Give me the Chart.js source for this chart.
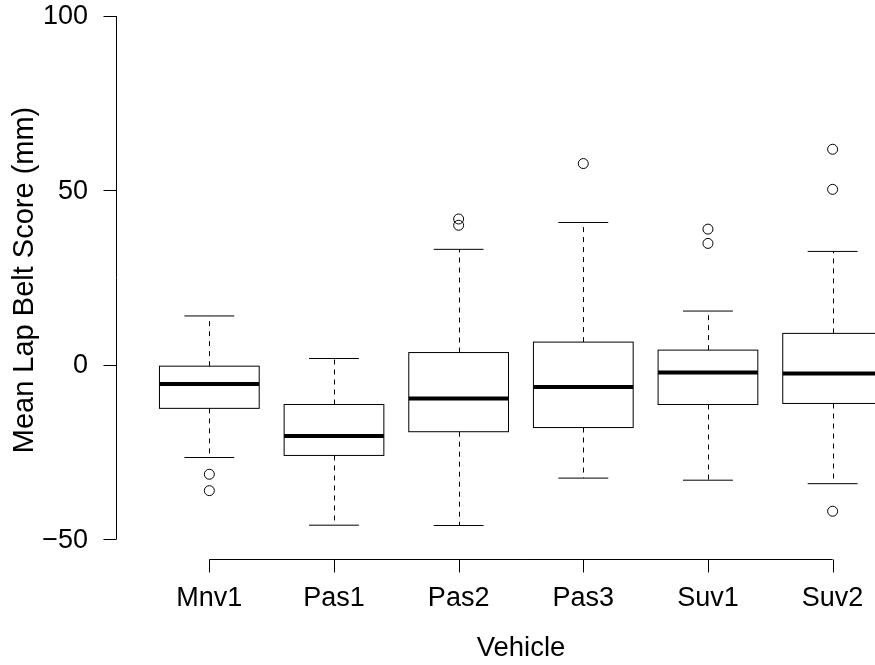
<!DOCTYPE html>
<html>
<head>
<meta charset="utf-8">
<script src="https://cdn.jsdelivr.net/npm/chart.js@4/dist/chart.umd.min.js"></script>
<style>
  body { margin: 0; background: #fff; }
  canvas { display: block; }
</style>
</head>
<body>
<canvas id="boxChart" width="875" height="665"></canvas>
<script>
// -- data --
const vehicles = ['Mnv1', 'Pas1', 'Pas2', 'Pas3', 'Suv1', 'Suv2'];
const whiskerLow = [-26.6, -46.0, -46.1, -32.5, -33.1, -34.1];
const lowerQ = [-12.5, -26.0, -19.2, -18.0, -11.4, -11.1];
const medians = [-5.5, -20.4, -9.7, -6.4, -2.2, -2.5];
const upperQ = [-0.4, -11.4, 3.5, 6.5, 4.2, 9.0];
const whiskerHigh = [14.0, 1.8, 33.1, 40.8, 15.4, 32.5];
const outliers = [[-31.4, -36.1], [], [41.8, 40.0], [57.7], [38.9, 34.8], [61.8, 50.3, -42.0]];
const yTicks = [-50, 0, 50, 100];

const FONT = '27px "Liberation Sans", Arial, sans-serif';

const outlierPoints = [];
outliers.forEach((list, i) => list.forEach(v => outlierPoints.push({ x: i + 1, y: v })));

// R style boxes and axes, drawn through the chart scales
const boxPlot = {
  id: 'boxPlot',
  beforeDatasetsDraw(chart) {
    const { ctx, chartArea, scales: { x, y } } = chart;
    const half = 0.4, cap = 0.2;
    ctx.save();
    ctx.beginPath();
    ctx.rect(chartArea.left, chartArea.top, chartArea.right - chartArea.left, chartArea.bottom - chartArea.top);
    ctx.clip();
    ctx.strokeStyle = '#000';
    vehicles.forEach((v, i) => {
      const c = i + 1;
      const xc = Math.round(x.getPixelForValue(c)) + 0.5;
      const xl = x.getPixelForValue(c - half), xr = x.getPixelForValue(c + half);
      const cl = x.getPixelForValue(c - cap), cr = x.getPixelForValue(c + cap);
      // whiskers
      ctx.lineWidth = 1;
      ctx.setLineDash([5, 5]);
      ctx.beginPath();
      ctx.moveTo(xc, y.getPixelForValue(upperQ[i]));
      ctx.lineTo(xc, y.getPixelForValue(whiskerHigh[i]));
      ctx.moveTo(xc, y.getPixelForValue(lowerQ[i]));
      ctx.lineTo(xc, y.getPixelForValue(whiskerLow[i]));
      ctx.stroke();
      ctx.setLineDash([]);
      // staples
      ctx.beginPath();
      ctx.moveTo(cl, y.getPixelForValue(whiskerHigh[i]));
      ctx.lineTo(cr, y.getPixelForValue(whiskerHigh[i]));
      ctx.moveTo(cl, y.getPixelForValue(whiskerLow[i]));
      ctx.lineTo(cr, y.getPixelForValue(whiskerLow[i]));
      ctx.stroke();
      // box
      const yt = y.getPixelForValue(upperQ[i]), yb = y.getPixelForValue(lowerQ[i]);
      ctx.fillStyle = '#fff';
      ctx.fillRect(xl, yt, xr - xl, yb - yt);
      ctx.strokeRect(xl, yt, xr - xl, yb - yt);
      // median
      ctx.lineWidth = 4;
      ctx.beginPath();
      ctx.moveTo(xl, y.getPixelForValue(medians[i]));
      ctx.lineTo(xr, y.getPixelForValue(medians[i]));
      ctx.stroke();
    });
    ctx.restore();
  },
  afterDraw(chart) {
    const { ctx, scales: { x, y } } = chart;
    ctx.save();
    ctx.strokeStyle = '#000';
    ctx.fillStyle = '#000';
    ctx.lineWidth = 1;
    ctx.font = FONT;

    // y axis
    const ax = 116.5;
    ctx.beginPath();
    ctx.moveTo(ax, y.getPixelForValue(yTicks[0]));
    ctx.lineTo(ax, y.getPixelForValue(yTicks[yTicks.length - 1]));
    yTicks.forEach(t => {
      const py = Math.round(y.getPixelForValue(t)) + 0.5;
      ctx.moveTo(ax, py);
      ctx.lineTo(ax - 13, py);
    });
    ctx.stroke();
    ctx.textAlign = 'right';
    ctx.textBaseline = 'middle';
    yTicks.forEach(t => ctx.fillText(String(t).replace('-', '\u2212'), 88, y.getPixelForValue(t) + 1));

    // x axis
    const ay = 559.5;
    ctx.beginPath();
    ctx.moveTo(x.getPixelForValue(1), ay);
    ctx.lineTo(x.getPixelForValue(vehicles.length), ay);
    vehicles.forEach((v, i) => {
      const px = Math.round(x.getPixelForValue(i + 1)) + 0.5;
      ctx.moveTo(px, ay);
      ctx.lineTo(px, ay + 13);
    });
    ctx.stroke();
    ctx.textAlign = 'center';
    ctx.textBaseline = 'alphabetic';
    vehicles.forEach((v, i) => ctx.fillText(v, x.getPixelForValue(i + 1), 606));

    // titles
    ctx.font = '27.5px "Liberation Sans", Arial, sans-serif';
    ctx.fillText('Vehicle', 521, 656);
    ctx.font = '29px "Liberation Sans", Arial, sans-serif';
    ctx.translate(33, 280);
    ctx.rotate(-Math.PI / 2);
    ctx.fillText('Mean Lap Belt Score (mm)', 0, 0);
    ctx.restore();
  }
};

new Chart(document.getElementById('boxChart').getContext('2d'), {
  type: 'scatter',
  data: {
    datasets: [{
      label: 'Outliers',
      data: outlierPoints,
      pointStyle: 'circle',
      pointRadius: 5,
      pointBorderWidth: 1,
      pointBorderColor: '#000',
      pointBackgroundColor: 'rgba(0,0,0,0)'
    }]
  },
  options: {
    responsive: false,
    animation: false,
    layout: { autoPadding: false, padding: { left: 147, right: 0, top: 0, bottom: 106 } },
    scales: {
      x: { type: 'linear', min: 0.5, max: 6.34, display: false },
      y: { type: 'linear', min: -55.7, max: 104.6, display: false }
    },
    plugins: { legend: { display: false }, tooltip: { enabled: false } }
  },
  plugins: [boxPlot]
});
</script>
</body>
</html>
